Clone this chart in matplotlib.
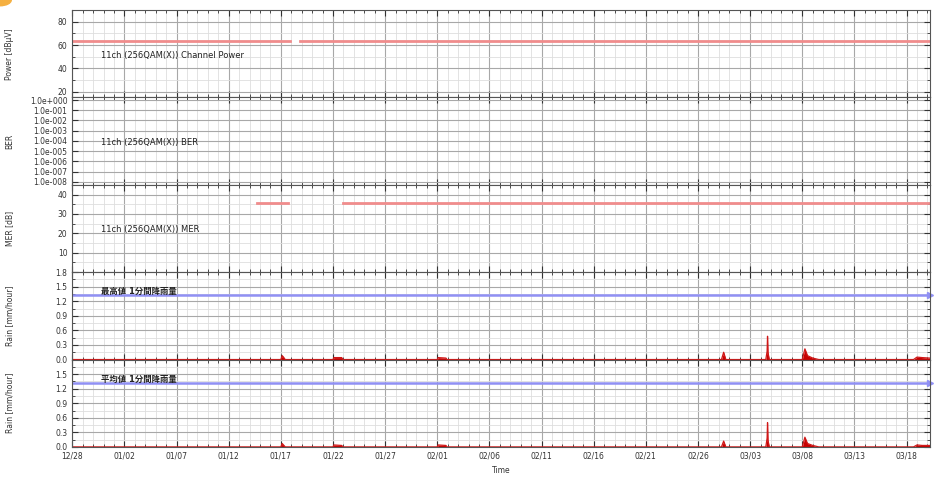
import matplotlib
matplotlib.use("Agg")
import matplotlib.pyplot as plt
import matplotlib.dates as mdates
import matplotlib.ticker as mticker
from matplotlib.patches import Circle
import numpy as np
import pandas as pd

plt.rcParams['font.family'] = ['DejaVu Sans', 'Noto Sans CJK JP']

# Data
x_start = pd.Timestamp("2014-12-28 00:00")
x_end = pd.Timestamp("2015-03-20 05:00")

power_times = pd.to_datetime(["2014-12-28 00:00", "2015-01-17 21:00",
                              "2015-01-18 19:00", "2015-03-20 05:00"])
power_vals = [63.5, 63.5, 63.5, 63.5]
power_gap = 1  # break after this index

mer_times = pd.to_datetime(["2015-01-14 17:00", "2015-01-17 17:00",
                            "2015-01-22 23:00", "2015-03-20 05:00"])
mer_vals = [35.5, 35.5, 35.5, 35.5]
mer_gap = 1

rain_times = pd.to_datetime([
    "2014-12-28 00:00",
    "2015-01-17 00:00", "2015-01-17 03:00", "2015-01-17 06:00", "2015-01-17 10:00",
    "2015-01-22 00:00", "2015-01-22 02:00", "2015-01-22 20:00", "2015-01-22 23:00",
    "2015-02-01 00:00", "2015-02-01 02:00", "2015-02-01 20:00", "2015-02-01 22:00",
    "2015-02-28 06:00", "2015-02-28 11:00", "2015-02-28 16:00",
    "2015-03-04 12:00", "2015-03-04 15:00", "2015-03-04 16:00", "2015-03-04 17:00", "2015-03-04 20:00",
    "2015-03-08 00:00", "2015-03-08 06:00", "2015-03-08 12:00", "2015-03-09 00:00", "2015-03-09 14:00",
    "2015-03-18 16:00", "2015-03-19 00:00", "2015-03-19 12:00", "2015-03-20 05:00"])
rain_max = [0,
            0, 0.08, 0.05, 0,
            0, 0.04, 0.04, 0,
            0, 0.04, 0.03, 0,
            0, 0.15, 0,
            0, 0.17, 0.48, 0.15, 0,
            0, 0.22, 0.08, 0.03, 0,
            0, 0.05, 0.04, 0.03]
rain_avg = [0,
            0, 0.07, 0.04, 0,
            0, 0.04, 0.03, 0,
            0, 0.04, 0.03, 0,
            0, 0.12, 0,
            0, 0.18, 0.50, 0.14, 0,
            0, 0.20, 0.07, 0.03, 0,
            0, 0.04, 0.03, 0.03]
rain_limit = 1.32

panel_texts = ["11ch (256QAM(X)) Channel Power", "11ch (256QAM(X)) BER",
               "11ch (256QAM(X)) MER", "最高値 1分間降雨量", "平均値 1分間降雨量"]
ylabels = ["Power [dBμV]", "BER", "MER [dB]", "Rain [mm/hour]", "Rain [mm/hour]"]

fig = plt.figure(figsize=(9.39, 4.79), dpi=100)
gs = fig.add_gridspec(5, 1, left=0.077, right=0.990, top=0.979, bottom=0.067, hspace=0)
axes = [fig.add_subplot(gs[i]) for i in range(5)]

line_red = '#f08c8c'

# Power
ax = axes[0]
ax.plot(power_times[:power_gap + 1], power_vals[:power_gap + 1], color=line_red, lw=2)
ax.plot(power_times[power_gap + 1:], power_vals[power_gap + 1:], color=line_red, lw=2)
ax.set_ylim(15, 90)
ax.yaxis.set_major_locator(mticker.FixedLocator([20, 40, 60, 80]))
ax.yaxis.set_minor_locator(mticker.FixedLocator([30, 50, 70]))

# BER
ax = axes[1]
ax.set_yscale('log')
ax.set_ylim(5e-9, 1.8)
ax.yaxis.set_major_locator(mticker.FixedLocator([10.0 ** -k for k in range(9)]))
ax.yaxis.set_minor_locator(mticker.NullLocator())
ax.yaxis.set_major_formatter(mticker.FuncFormatter(
    lambda v, p: "1.0e%s" % format(int(round(np.log10(v))), '+04d')))

# MER
ax = axes[2]
ax.plot(mer_times[:mer_gap + 1], mer_vals[:mer_gap + 1], color=line_red, lw=2)
ax.plot(mer_times[mer_gap + 1:], mer_vals[mer_gap + 1:], color=line_red, lw=2)
ax.set_ylim(0, 45)
ax.yaxis.set_major_locator(mticker.FixedLocator([10, 20, 30, 40]))
ax.yaxis.set_minor_locator(mticker.FixedLocator([5, 15, 25, 35]))

# Rain
rain_ticks = [[0, 0.3, 0.6, 0.9, 1.2, 1.5, 1.8], [0, 0.3, 0.6, 0.9, 1.2, 1.5]]
for k, (ax, vals) in enumerate([(axes[3], rain_max), (axes[4], rain_avg)]):
    ax.fill_between(rain_times, 0, vals, color='#c80000', lw=0)
    ax.plot(rain_times, vals, color='#d01818', lw=0.9)
    ax.axhline(rain_limit, color='#9090f4', lw=1.8)
    ax.plot([x_end], [rain_limit], marker='>', color='#9090f4', ms=5, clip_on=False)
    ax.set_ylim(0, 1.8)
    ax.yaxis.set_major_locator(mticker.FixedLocator(rain_ticks[k]))
    ax.yaxis.set_major_formatter(mticker.FormatStrFormatter('%.1f'))
    ax.yaxis.set_minor_locator(mticker.FixedLocator([0.15, 0.45, 0.75, 1.05, 1.35, 1.65]))

text_y = [0.48, 0.48, 0.49, 0.78, 0.77]
for i, ax in enumerate(axes):
    ax.set_xlim(x_start, x_end)
    ax.xaxis.set_major_locator(mticker.FixedLocator(
        mdates.date2num(pd.date_range(x_start, x_end, freq='5D'))))
    ax.xaxis.set_minor_locator(mdates.DayLocator())
    ax.xaxis.set_major_formatter(mdates.DateFormatter('%m/%d'))
    ax.grid(which='major', color='#a8a8a8', lw=0.8)
    ax.grid(which='minor', color='#dedede', lw=0.6)
    ax.set_axisbelow(True)
    ax.tick_params(which='both', direction='in', top=True, right=True,
                   labelsize=5.5, colors='#333333')
    ax.tick_params(which='major', length=4)
    ax.tick_params(which='minor', length=2.5)
    for s in ax.spines.values():
        s.set_color('#555555')
        s.set_linewidth(0.8)
    if i < 4:
        ax.tick_params(labelbottom=False)
    ax.set_ylabel(ylabels[i], fontsize=5.5, color='#333333')
    ax.yaxis.set_label_coords(-0.068, 0.5)
    weight = 'bold' if i >= 3 else 'normal'
    ax.text(0.033, text_y[i], panel_texts[i], transform=ax.transAxes,
            fontsize=6, va='center', ha='left', color='#222222', fontweight=weight)

axes[4].set_xlabel("Time", fontsize=5.5, color='#333333')

fig.add_artist(Circle((0.0, 1.0), 0.012, transform=fig.transFigure, color='#f5b041'))

fig.savefig("out.png", dpi=100)
